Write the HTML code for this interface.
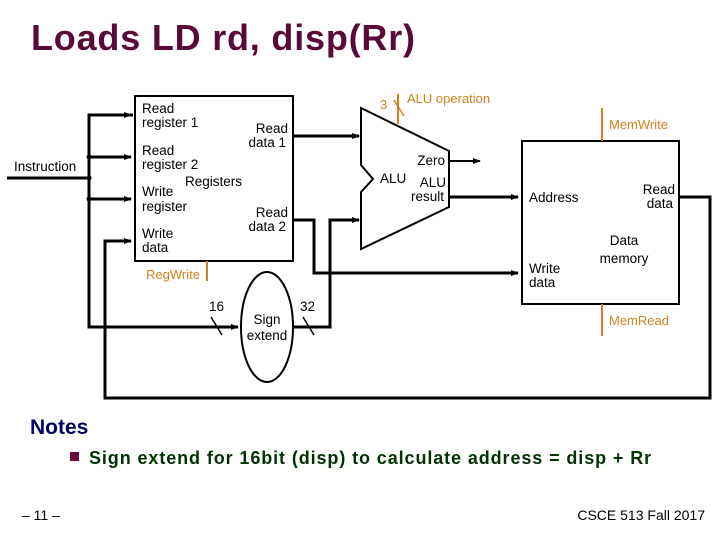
<!DOCTYPE html>
<html><head><style>
body{margin:0;background:#fff;}
svg text{font-family:"Liberation Sans",sans-serif;}
</style></head><body>
<svg width="720" height="540" xmlns="http://www.w3.org/2000/svg">
<defs><marker id="a" markerWidth="8" markerHeight="8" refX="7" refY="4" orient="auto" markerUnits="userSpaceOnUse"><path d="M0,1 L8,4 L0,7z" fill="#000"/></marker></defs>
<text x="31" y="50" font-size="36" font-weight="bold" letter-spacing="0.8" fill="#5a0a38">Loads LD rd, disp(Rr)</text>
<g stroke="#000" fill="none" stroke-width="3">
<rect x="135" y="96" width="158" height="165" stroke-width="2"/>
<line x1="7" y1="178" x2="89" y2="178"/>
<polyline points="133,115 89,115 89,327 238,327" stroke-width="3" marker-end="url(#a)"/>
<line x1="89" y1="157" x2="131" y2="157" marker-end="url(#a)"/>
<line x1="89" y1="199" x2="131" y2="199" marker-end="url(#a)"/>
<line x1="89" y1="115" x2="131" y2="115" marker-end="url(#a)"/>
<polyline points="131,241 105,241 105,398 710,398 710,197 680,197"/>
<line x1="105" y1="241" x2="131" y2="241" marker-end="url(#a)"/>
<line x1="293" y1="136" x2="359" y2="136" marker-end="url(#a)"/>
<polyline points="293,220 314,220 314,273 518,273" marker-end="url(#a)"/>
<polyline points="294,327 330,327 330,220 359,220" marker-end="url(#a)"/>
<ellipse cx="267" cy="327" rx="26" ry="55" stroke-width="2"/>
<line x1="211" y1="317" x2="222" y2="335" stroke-width="1.5"/>
<line x1="303" y1="317" x2="314" y2="335" stroke-width="1.5"/>
<polygon points="361,108 449,151 449,207 361,249 361,192 373,179 361,165" stroke-width="2"/>
<line x1="449" y1="161" x2="480" y2="161" stroke-width="2" marker-end="url(#a)"/>
<line x1="449" y1="197" x2="518" y2="197" marker-end="url(#a)"/>
<rect x="522" y="141" width="157" height="163" stroke-width="2"/>
</g>
<circle cx="89" cy="157" r="2.5" fill="#000"/><circle cx="89" cy="178" r="2.5" fill="#000"/><circle cx="89" cy="199" r="2.5" fill="#000"/>
<g stroke="#d08020" stroke-width="2" fill="none">
<line x1="207" y1="261" x2="207" y2="281"/>
<line x1="398" y1="94" x2="398" y2="124"/>
<line x1="394" y1="100" x2="404" y2="116" stroke-width="1.5"/>
<line x1="602" y1="108" x2="602" y2="141"/>
<line x1="602" y1="304" x2="602" y2="336"/>
</g>
<g font-size="13" fill="#d08020">
<text x="146" y="279">RegWrite</text>
<text x="380" y="109">3</text>
<text x="407" y="103">ALU operation</text>
<text x="609" y="129">MemWrite</text>
<text x="609" y="325">MemRead</text>
</g>
<g font-size="13.5" fill="#000">
<text x="14" y="171">Instruction</text>
<text x="142" y="113">Read</text><text x="142" y="127">register 1</text>
<text x="142" y="155">Read</text><text x="142" y="169">register 2</text>
<text x="185" y="186">Registers</text>
<text x="142" y="196">Write</text><text x="142" y="211">register</text>
<text x="142" y="238">Write</text><text x="142" y="252">data</text>
<g text-anchor="end"><text x="288" y="133">Read</text><text x="286" y="147">data 1</text>
<text x="288" y="217">Read</text><text x="286" y="231">data 2</text>
<text x="445" y="165">Zero</text><text x="446" y="187">ALU</text><text x="444" y="201">result</text>
<text x="675" y="194">Read</text><text x="673" y="208">data</text></g>
<text x="380" y="183">ALU</text>
<text x="209" y="311">16</text><text x="300" y="311">32</text>
<text x="267" y="324" text-anchor="middle">Sign</text><text x="267" y="340" text-anchor="middle">extend</text>
<text x="529" y="202">Address</text>
<text x="624" y="245" text-anchor="middle">Data</text><text x="624" y="263" text-anchor="middle">memory</text>
<text x="529" y="273">Write</text><text x="529" y="287">data</text>
</g>
<text x="30" y="434" font-size="21" font-weight="bold" fill="#000060">Notes</text>
<rect x="70" y="452" width="9" height="9" fill="#6a0a3c"/>
<text x="89" y="464" font-size="18" font-weight="bold" letter-spacing="0.9" fill="#003300">Sign extend for 16bit (disp) to calculate address = disp + Rr</text>
<text x="22" y="520" font-size="14" fill="#000">– 11 –</text>
<text x="705" y="520" font-size="14" fill="#000" text-anchor="end">CSCE 513 Fall 2017</text>
</svg>
</body></html>
